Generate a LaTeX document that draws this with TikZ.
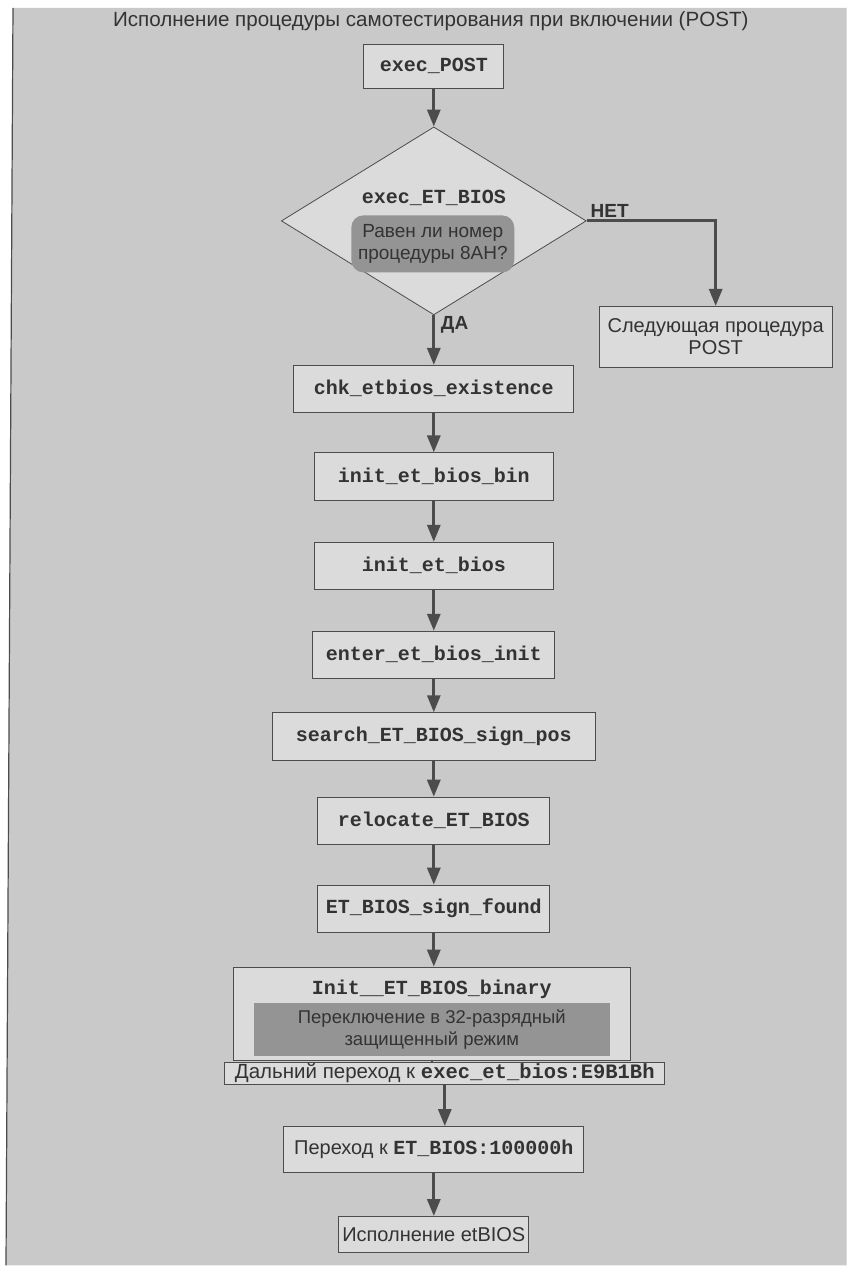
\documentclass[tikz,border=0pt]{standalone}
\usepackage{fontspec}
\setmainfont{Liberation Sans}
\setmonofont{Liberation Mono}
\usetikzlibrary{arrows.meta,shapes.geometric}
\definecolor{mypaper}{gray}{0.79}
\definecolor{myboxfill}{gray}{0.86}
\definecolor{mydarkfill}{gray}{0.58}
\definecolor{myline}{gray}{0.30}
\definecolor{mytext}{gray}{0.20}

\tikzset{
  procbox/.style={draw=myline,line width=0.8pt,fill=myboxfill,text=mytext,inner sep=1pt,
    font=\fontsize{20}{22}\selectfont\ttfamily\bfseries},
  textbox/.style={draw=myline,line width=0.8pt,fill=myboxfill,text=mytext,inner sep=1pt,
    align=center,font=\fontsize{20}{22}\selectfont},
  darkbox/.style={fill=mydarkfill,text=mytext,inner sep=0pt,align=center,
    font=\fontsize{18.5}{22}\selectfont},
  answer/.style={text=mytext,inner sep=0pt,font=\fontsize{19}{20}\selectfont\bfseries},
  flowarrow/.style={draw=myline,line width=3pt,-{Triangle[length=17pt,width=13pt]}},
}

\begin{document}
\begin{tikzpicture}[x=1pt,y=-1pt]
  % scanned page
  \fill[white] (0,0) rectangle (847,1266);
  \fill[mypaper] (13,8) -- (847,8) -- (847,1266) -- (6,1266) -- cycle;
  \draw[myline,line width=1.2pt] (13,8) -- (6,1266);
  \useasboundingbox (0,0) rectangle (847,1266);

  \node[text=mytext,font=\fontsize{20.6}{22}\selectfont] (title) at (431,21)
    {Исполнение процедуры самотестирования при включении (POST)};

  \node[procbox,minimum width=140,minimum height=44] (post) at (434,66) {exec\_POST};

  \node[diamond,draw=myline,line width=0.8pt,fill=myboxfill,inner sep=0pt,
    minimum width=305,minimum height=188] (check) at (434,221) {};
  \node[text=mytext,font=\fontsize{20}{22}\selectfont\ttfamily\bfseries] (checkname) at (434,198) {exec\_ET\_BIOS};
  \node[darkbox,rounded corners=12pt,minimum width=163,minimum height=57,
    font=\fontsize{19}{22}\selectfont] (question) at (433,244)
    {Равен ли номер\\процедуры 8AH?};
  \node[answer] (no) at (610,211) {НЕТ};
  \node[textbox,minimum width=233,minimum height=61] (next) at (716,337) {Следующая процедура\\POST};
  \node[answer,anchor=west] (yes) at (441,325) {ДА};

  \node[procbox,minimum width=280,minimum height=47] (chk) at (434,389) {chk\_etbios\_existence};
  \node[procbox,minimum width=239,minimum height=48] (initbin) at (434,477) {init\_et\_bios\_bin};
  \node[procbox,minimum width=239,minimum height=47] (initbios) at (434,566) {init\_et\_bios};
  \node[procbox,minimum width=242,minimum height=47] (enter) at (434,655) {enter\_et\_bios\_init};
  \node[procbox,minimum width=323,minimum height=48] (search) at (434,737) {search\_ET\_BIOS\_sign\_pos};
  \node[procbox,minimum width=232,minimum height=47] (relocate) at (434,821) {relocate\_ET\_BIOS};
  \node[procbox,minimum width=232,minimum height=47] (found) at (434,909) {ET\_BIOS\_sign\_found};

  \node[textbox,minimum width=397,minimum height=93] (binary) at (432,1014) {};
  \node[text=mytext,font=\fontsize{20}{22}\selectfont\ttfamily\bfseries] (binaryname) at (432,990)
    {Init\_\_ET\_BIOS\_binary};
  \node[darkbox,minimum width=356,minimum height=53] (pmode) at (432,1030)
    {Переключение в 32-разрядный\\защищенный режим};
  \node[textbox,minimum width=440,minimum height=21,font=\fontsize{20.5}{22}\selectfont] (farjump) at (445,1074)
    {Дальний переход к \texttt{\bfseries exec\_et\_bios:E9B1Bh}};
  \node[textbox,minimum width=300,minimum height=46] (jump) at (434,1150)
    {Переход к \texttt{\bfseries ET\_BIOS:100000h}};
  \node[textbox,minimum width=190,minimum height=36] (run) at (434,1235) {Исполнение etBIOS};

  \foreach \from/\to in {post/check,check/chk,chk/initbin,initbin/initbios,initbios/enter,
      enter/search,search/relocate,relocate/found,found/binary,farjump/jump,jump/run}
    \draw[flowarrow] (\from.south) -- (\from.south |- \to.north);
  \draw[flowarrow] (check.east) -| (next.north);
  \draw[myline,line width=1.5pt] (binary.south) -- (binary.south |- farjump.north);
\end{tikzpicture}
\end{document}
